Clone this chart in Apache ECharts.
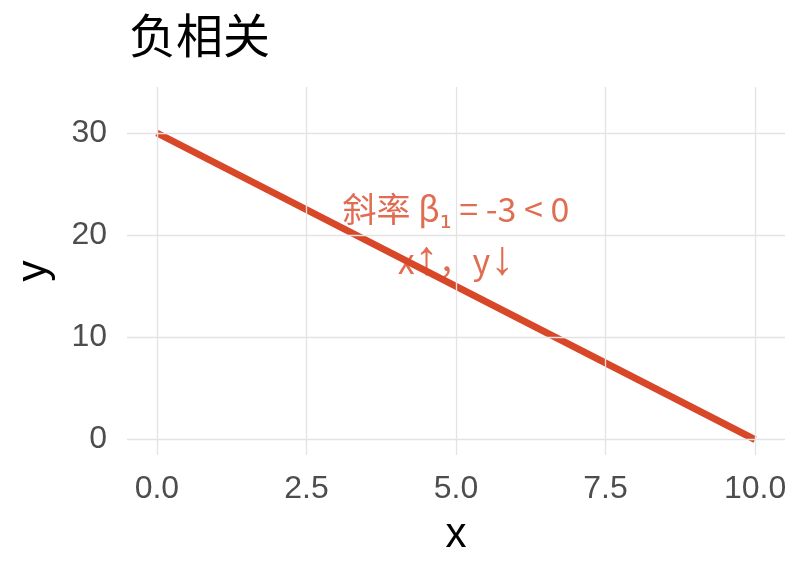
<!DOCTYPE html>
<html><head><meta charset="utf-8">
<script src="https://cdn.jsdelivr.net/npm/echarts@6/dist/echarts.min.js"></script>
<style>html,body{margin:0;padding:0;background:#fff}#c{width:806px;height:576px}</style>
</head><body><div id="c"></div>
<script>
const titleText = "负相关";
const xValues = [0, 10];
const yValues = [30, 0];
const xTicks = [0, 2.5, 5, 7.5, 10];
const yTicks = [0, 10, 20, 30];
const annotation = { x: 5, y: 20, text: "斜率 β{s|₁} = -3 < 0\nx{a|↑}，y{a|↓}" };
const lineColor = "#D84727";

const chart = echarts.init(document.getElementById('c'), null, {renderer: 'canvas'});
chart.setOption({
  backgroundColor: '#fff',
  animation: false,
  title: { text: titleText, left: 124, top: 7,
    textStyle: { fontFamily: 'Noto Sans CJK SC', fontSize: 47, fontWeight: 'normal', color: '#000' } },
  grid: { left: 127, right: 21, top: 87, bottom: 121 },
  xAxis: {
    type: 'value', min: -0.5, max: 10.5,
    name: 'x', nameLocation: 'middle', nameGap: 59,
    nameTextStyle: { fontFamily: 'Liberation Sans', fontSize: 42, color: '#000' },
    axisLine: { show: false }, axisTick: { show: false },
    axisLabel: { fontFamily: 'Liberation Sans', fontSize: 32, color: '#4d4d4d', margin: 18,
      customValues: xTicks, formatter: v => v.toFixed(1) },
    splitLine: { show: false }
  },
  yAxis: {
    type: 'value', min: -1.5, max: 34.5,
    name: 'y', nameLocation: 'middle', nameGap: 72, nameRotate: 90,
    nameTextStyle: { fontFamily: 'Liberation Sans', fontSize: 42, color: '#000' },
    axisLine: { show: false }, axisTick: { show: false },
    axisLabel: { fontFamily: 'Liberation Sans', fontSize: 32, color: '#4d4d4d', margin: 20,
      customValues: yTicks },
    splitLine: { show: false }
  },
  series: [
    { type: 'line', markLine: { silent: true, symbol: 'none', label: { show: false },
        lineStyle: { color: '#e3e3e3', width: 1.3, type: 'solid' },
        data: xTicks.map(v => ({ xAxis: v })).concat(yTicks.map(v => ({ yAxis: v }))) },
      data: [], z: 1 },
    { type: 'scatter', data: [[annotation.x, annotation.y]], symbolSize: 0, z: 2,
      label: { show: true, position: 'inside', formatter: annotation.text,
        fontFamily: 'Noto Sans CJK SC', fontSize: 34, lineHeight: 52, color: lineColor,
        rich: {
          a: { fontFamily: 'Liberation Sans', fontSize: 48, lineHeight: 52, color: lineColor },
          s: { fontFamily: 'DejaVu Sans', fontSize: 30, lineHeight: 52, color: lineColor, verticalAlign: 'bottom' }
        } } },
    { type: 'line', data: xValues.map((x, i) => [x, yValues[i]]), showSymbol: false,
      lineStyle: { color: lineColor, width: 7 }, z: 3 }
  ]
});
</script></body></html>
